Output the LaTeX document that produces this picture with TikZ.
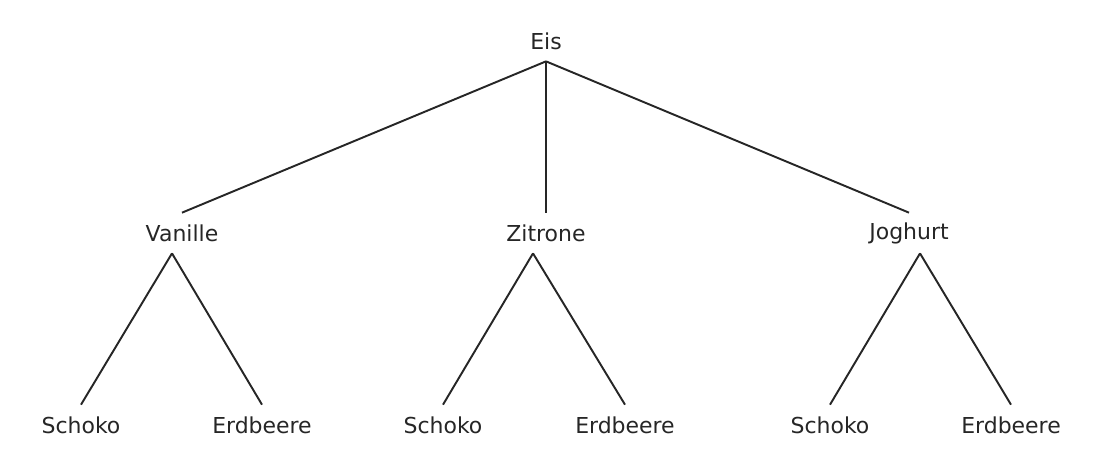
\documentclass[tikz,border=0pt]{standalone}
\usepackage{fontspec}
\setmainfont{DejaVu Sans}
\usetikzlibrary{positioning}
\tikzset{
  lbl/.style={inner sep=0pt, minimum height=0.8cm, font=\fontsize{12.5}{15}\selectfont, text=black!85},
  branch/.style={line width=1.1pt, black!85}
}
\begin{document}
\begin{tikzpicture}[x=0.02cm, y=-0.02cm]
    \useasboundingbox (0,0) rectangle (1105,468);
    % root and first level
    \node[lbl] (eis) at (546,41) {Eis};
    \node[lbl] (vanille) at (182,233) {Vanille};
    \node[lbl] (zitrone) at (546,233) {Zitrone};
    \node[lbl] (joghurt) at (909,233) {Joghurt};
    % leaves
    \node[lbl] (vschoko) at (81,425) {Schoko};
    \node[lbl] (verd) at (262,425) {Erdbeere};
    \node[lbl] (zschoko) at (443,425) {Schoko};
    \node[lbl] (zerd) at (625,425) {Erdbeere};
    \node[lbl] (jschoko) at (830,425) {Schoko};
    \node[lbl] (jerd) at (1011,425) {Erdbeere};

    \draw[branch] (eis.south) -- (vanille.north);
    \draw[branch] (eis.south) -- (zitrone.north);
    \draw[branch] (eis.south) -- (joghurt.north);

    \draw[branch] ([xshift=-0.2cm]vanille.south) -- (vschoko.north);
    \draw[branch] ([xshift=-0.2cm]vanille.south) -- (verd.north);
    \draw[branch] ([xshift=-0.26cm]zitrone.south) -- (zschoko.north);
    \draw[branch] ([xshift=-0.26cm]zitrone.south) -- (zerd.north);
    \draw[branch] ([xshift=0.22cm]joghurt.south) -- (jschoko.north);
    \draw[branch] ([xshift=0.22cm]joghurt.south) -- (jerd.north);
\end{tikzpicture}
\end{document}
